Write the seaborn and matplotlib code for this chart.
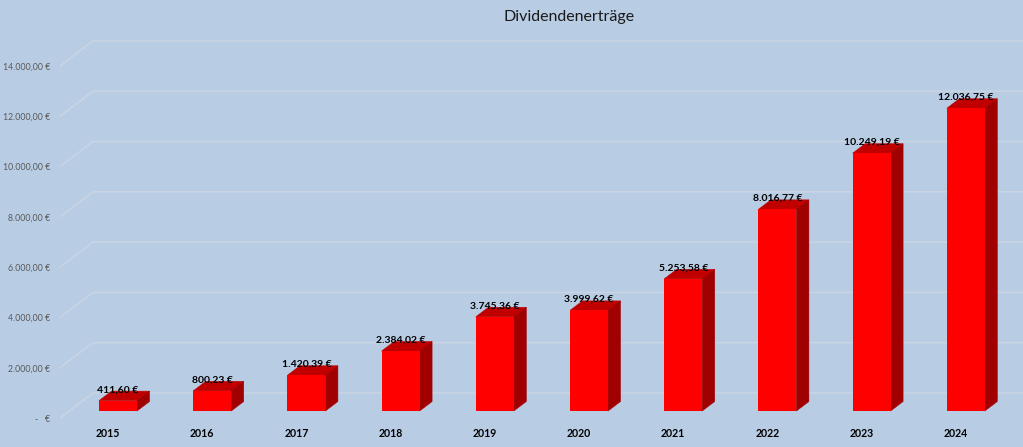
import matplotlib
matplotlib.use("Agg")
import matplotlib.pyplot as plt
import matplotlib.transforms as mtrans
from matplotlib.patches import Polygon
import pandas as pd
import seaborn as sns

years = ['2015', '2016', '2017', '2018', '2019', '2020', '2021', '2022', '2023', '2024']
dividends = [411.60, 800.23, 1420.39, 2384.02, 3745.36, 3999.62, 5253.58, 8016.77, 10249.19, 12036.75]
value_labels = ['411,60 €', '800,23 €', '1.420,39 €', '2.384,02 €', '3.745,36 €',
                '3.999,62 €', '5.253,58 €', '8.016,77 €', '10.249,19 €', '12.036,75 €']
y_ticks = [0, 2000, 4000, 6000, 8000, 10000, 12000, 14000]
y_tick_labels = ['-   €', '2.000,00 €', '4.000,00 €', '6.000,00 €', '8.000,00 €',
                 '10.000,00 €', '12.000,00 €', '14.000,00 €']

BG = '#b8cce4'
PX_X = 94.2          # pixels per category
PX_Y = 0.02515       # pixels per euro
W, H = 1023, 447

sns.set_theme(style='white')
plt.rcParams['font.family'] = ['Lato', 'DejaVu Sans']

fig = plt.figure(figsize=(W / 100, H / 100), dpi=100, facecolor=BG)
# axes runs from the front corner of the fake 3d floor to the top right
ax = fig.add_axes([60 / W, (H - 418) / H, (W - 60) / W, 418 / H], facecolor=BG)

# the bars stand a bit behind the front edge of the floor
bar_base = 7 / PX_Y
df = pd.DataFrame({'year': years, 'dividend': dividends})
sns.barplot(data=df, x='year', y='dividend', color='#ff0000', saturation=1, width=0.403,
            bottom=bar_base, ax=ax, zorder=4, linewidth=0)

ax.set_xlim((60 - 118) / PX_X, (W - 118) / PX_X)
ax.set_ylim(0, 418 / PX_Y)

# gridlines: slanted part on the side wall, then flat on the back wall
wall_dx = 33 / PX_X
wall_dy = 25 / PX_Y
x0, x1 = ax.get_xlim()
for v in y_ticks:
    ax.plot([x0, x0 + wall_dx, x1], [v, v + wall_dy, v + wall_dy], color='#cad5e3', lw=1.1, zorder=1)

# top and side faces of each bar
depth_x = 12.5 / PX_X
depth_y = 9.5 / PX_Y
half = 0.403 / 2
for i, v in enumerate(dividends):
    top = v + bar_base
    ax.add_patch(Polygon([(i - half, top), (i + half, top), (i + half + depth_x, top + depth_y),
                          (i - half + depth_x, top + depth_y)], color='#c00000', lw=0.4, zorder=3))
    ax.add_patch(Polygon([(i + half, bar_base), (i + half + depth_x, bar_base + depth_y),
                          (i + half + depth_x, top + depth_y), (i + half, top)], color='#a00000', lw=0.4, zorder=3))
    ax.annotate(value_labels[i], (i, top), xytext=(0, 7.9), textcoords='offset points',
                ha='center', va='center', fontsize=7.5, color='black', fontweight='bold', zorder=5)

sns.despine(ax=ax, left=True, bottom=True)
ax.set_xlabel('')
ax.set_ylabel('')
ax.set_yticks(y_ticks, y_tick_labels)
ax.tick_params(axis='y', length=0, pad=7, labelsize=6.3, labelcolor='#595959')
ax.tick_params(axis='x', length=0, pad=7, labelsize=7.6, labelcolor='black')
# years sit a little left of their bars
shift = mtrans.ScaledTranslation(-10 / 100, 0, fig.dpi_scale_trans)
for lab in ax.get_xticklabels():
    lab.set_transform(lab.get_transform() + shift)
    lab.set_fontweight('bold')

ax.set_title('Dividendenerträge', x=(569 - 60) / (W - 60), y=(418 - 21) / 418 - 8 / 418, fontsize=11.5, color='#1a1a1a')

fig.savefig('out.png', dpi=100, facecolor=BG)
